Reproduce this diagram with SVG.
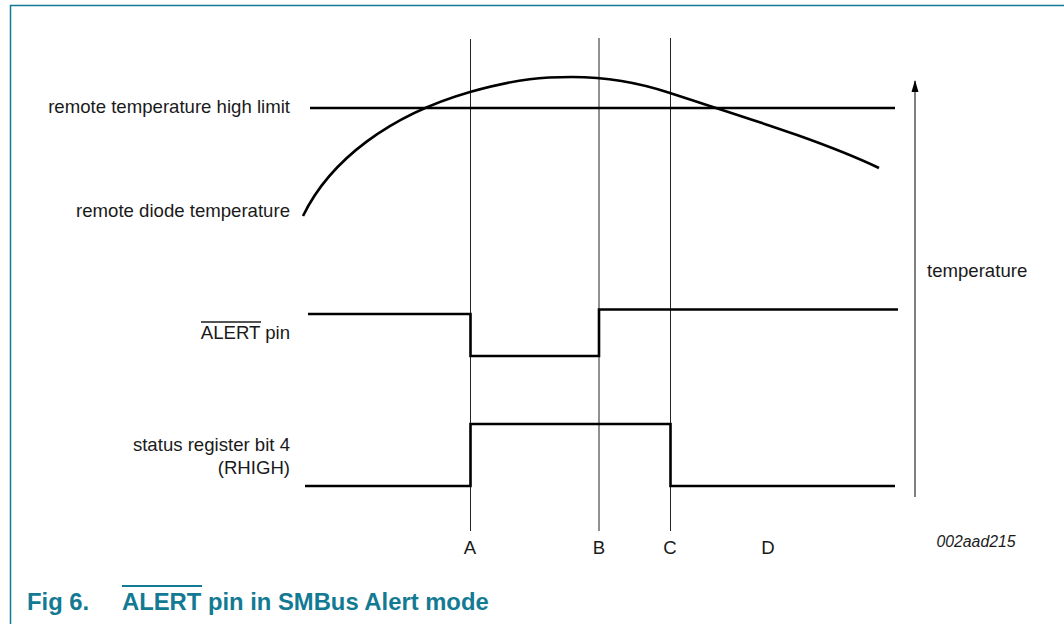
<svg xmlns="http://www.w3.org/2000/svg" width="1064" height="624" viewBox="0 0 1064 624">
<style>
.lbl{font-family:"Liberation Sans",Arial,sans-serif;font-size:18.6px;fill:#1a1a1a}
.r{text-anchor:end}
.m{text-anchor:middle}
.cap{font-family:"Liberation Sans",Arial,sans-serif;font-size:23.8px;font-weight:bold;fill:#137a93}
.guide{stroke:#222;stroke-width:1;fill:none}
.wave{stroke:#000;stroke-width:2.6;fill:none;stroke-linejoin:miter}
</style>
<defs>
<marker id="ah" markerWidth="12" markerHeight="8" refX="11" refY="4" orient="auto" markerUnits="userSpaceOnUse" viewBox="0 0 12 8">
<path d="M0,0.5 L12,4 L0,7.5 Z" fill="#000"/>
</marker>
</defs>
<rect width="1064" height="624" fill="#fff"/>
<g id="frame" stroke="#137a93" stroke-width="1.5" fill="none">
<path d="M10.5,624 V5.5 H1064"/>
</g>
<g id="connectors">
<line class="guide" x1="470.5" y1="39" x2="470.5" y2="531"/>
<line class="guide" x1="599" y1="38" x2="599" y2="531"/>
<line class="guide" x1="670.5" y1="38" x2="670.5" y2="531"/>
<line id="temp-axis" x1="915" y1="497" x2="915" y2="81" stroke="#555" stroke-width="1.5" marker-end="url(#ah)"/>
</g>
<g id="high-limit">
<line class="wave" x1="310" y1="108" x2="895" y2="108"/>
<text class="lbl r" x="290" y="113">remote temperature high limit</text>
</g>
<g id="diode-temp">
<path class="wave" d="M303,216 C330,160 390,115 470,92 C520,78 545,77 572,77 C610,77 640,83 670,93 C740,116 820,140 879,168"/>
<text class="lbl r" x="290" y="217">remote diode temperature</text>
</g>
<g id="alert-pin">
<path class="wave" d="M308,314 H470.5 V356 H599 V309.5 H898"/>
<text class="lbl r" x="290" y="339">ALERT pin</text>
<line x1="201" y1="322" x2="261" y2="322" stroke="#1a1a1a" stroke-width="1.3"/>
</g>
<g id="status-bit">
<path class="wave" d="M305,486 H470.5 V424 H670.5 V486 H895"/>
<text class="lbl r" x="290" y="451">status register bit 4</text>
<text class="lbl r" x="290" y="474">(RHIGH)</text>
</g>
<g id="temperature-label">
<text class="lbl" x="927" y="277">temperature</text>
</g>
<g id="time-labels">
<text class="lbl m" x="470" y="554">A</text>
<text class="lbl m" x="599" y="554">B</text>
<text class="lbl m" x="670" y="554">C</text>
<text class="lbl m" x="768" y="554">D</text>
</g>
<g id="ref-code">
<text x="976" y="547" class="m" style="font-family:'Liberation Sans',Arial,sans-serif;font-size:15.8px;font-style:italic;fill:#1a1a1a">002aad215</text>
</g>
<g id="caption">
<text class="cap" x="27" y="610">Fig 6.</text>
<text class="cap" x="122" y="610">ALERT pin in SMBus Alert mode</text>
<line x1="122" y1="586" x2="202" y2="586" stroke="#137a93" stroke-width="2.2"/>
</g>
</svg>
